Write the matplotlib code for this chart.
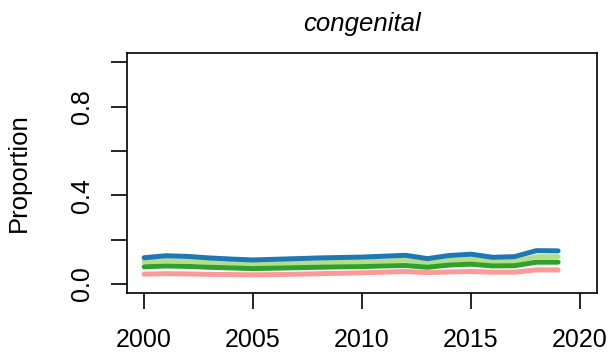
import matplotlib
matplotlib.use("Agg")
import matplotlib.pyplot as plt
import numpy as np

plt.rcParams['font.family'] = ['Liberation Sans', 'DejaVu Sans']

# dati
years = list(range(2000, 2020))
blue = [0.118, 0.127, 0.124, 0.117, 0.112, 0.108, 0.111, 0.114, 0.117, 0.119,
        0.121, 0.125, 0.129, 0.114, 0.128, 0.134, 0.120, 0.123, 0.150, 0.149]
light_green = [0.099, 0.105, 0.102, 0.097, 0.092, 0.088, 0.091, 0.093, 0.096, 0.098,
               0.100, 0.103, 0.107, 0.093, 0.106, 0.111, 0.100, 0.101, 0.123, 0.123]
green = [0.077, 0.081, 0.079, 0.075, 0.072, 0.069, 0.071, 0.073, 0.075, 0.077,
         0.078, 0.081, 0.083, 0.075, 0.085, 0.089, 0.081, 0.082, 0.098, 0.098]
pink = [0.044, 0.046, 0.045, 0.043, 0.042, 0.041, 0.042, 0.044, 0.046, 0.048,
        0.050, 0.053, 0.056, 0.051, 0.054, 0.056, 0.053, 0.053, 0.063, 0.063]

x_ticks = [2000, 2005, 2010, 2015, 2020]
y_ticks = [0.0, 0.2, 0.4, 0.6, 0.8, 1.0]
y_labels = ['0.0', '', '0.4', '', '0.8', '']

fig = plt.figure(figsize=(6.12, 3.54), dpi=100)
ax = fig.add_axes([0.207, 0.173, 0.769, 0.676])

# linee spesse stile R
ax.plot(years, pink, color='#FB9A99', lw=3.6, solid_capstyle='round')
ax.plot(years, light_green, color='#B2DF8A', lw=3.6, solid_capstyle='round')
ax.plot(years, green, color='#33A02C', lw=3.6, solid_capstyle='round')
ax.plot(years, blue, color='#1F78B4', lw=3.6, solid_capstyle='round')

ax.set_xlim(1999.2, 2020.8)
ax.set_ylim(-0.04, 1.04)
ax.set_xticks(x_ticks)
ax.set_yticks(y_ticks)
ax.set_yticklabels(y_labels, rotation=90, va='center')
ax.tick_params(axis='both', direction='out', length=11.5, width=1.2,
               labelsize=18)
ax.tick_params(axis='x', pad=14)
ax.tick_params(axis='y', pad=12)
for s in ax.spines.values():
    s.set_linewidth(1.2)

ax.set_ylabel('Proportion', fontsize=18.5, labelpad=28)
ax.set_title('congenital', fontsize=18.5, style='italic', pad=16)

fig.savefig('out.png', dpi=100)
